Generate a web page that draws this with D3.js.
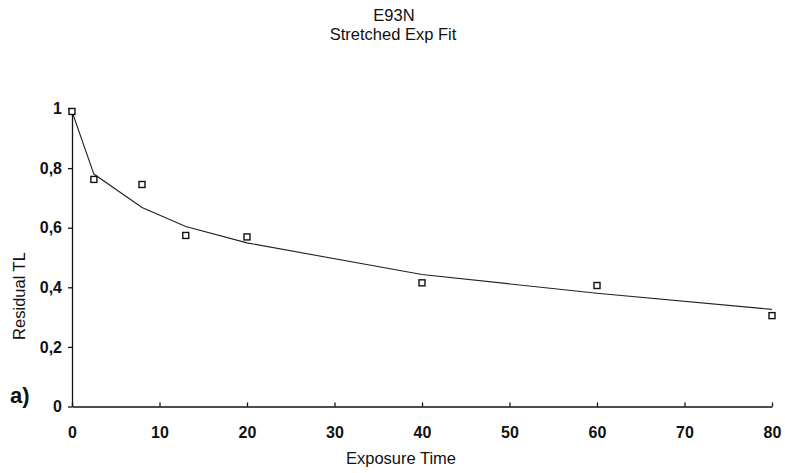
<!DOCTYPE html>
<html><head><meta charset="utf-8">
<script src="https://cdn.jsdelivr.net/npm/d3@7"></script>
<style>body{margin:0;background:#fff}svg{display:block}text{font-family:"Liberation Sans",Arial,sans-serif;fill:#111}</style>
</head><body><svg id="c" width="785" height="473"></svg>
<script>
const dataX = [0, 2.5, 8, 13, 20, 40, 60, 80];
const dataY = [0.99, 0.762, 0.745, 0.574, 0.569, 0.415, 0.406, 0.305];
const fitX = [0, 2.5, 8, 13, 20, 40, 60, 80];
const fitY = [0.99, 0.78, 0.668, 0.604, 0.549, 0.443, 0.38, 0.326];
const xTicks = [0, 10, 20, 30, 40, 50, 60, 70, 80];
const yTicks = [0, 0.2, 0.4, 0.6, 0.8, 1];

const svg = d3.select("#c");
const x = d3.scaleLinear().domain([0, 80]).range([72, 772]);
const y = d3.scaleLinear().domain([0, 1]).range([406.5, 108.5]);
const fmt = d => d === 0 ? "0" : d === 1 ? "1" : d3.format(".1f")(d).replace(".", ",");
const FF = "'Liberation Sans',Arial,sans-serif";

const xa = svg.append("g").attr("transform", "translate(0,406.5)")
  .call(d3.axisBottom(x).tickValues(xTicks).tickSizeInner(-4).tickSizeOuter(0).tickPadding(20).tickFormat(d3.format("d")));
const ya = svg.append("g").attr("transform", "translate(72,0)")
  .call(d3.axisLeft(y).tickValues(yTicks).tickSizeInner(4).tickSizeOuter(0).tickPadding(6).tickFormat(fmt));
[xa, ya].forEach(a => {
  a.selectAll("path,line").attr("stroke", "#111").attr("stroke-width", 1.3);
  a.selectAll("text").attr("font-size", 16).attr("font-weight", "bold").attr("fill", "#111").attr("font-family", FF);
});
xa.selectAll("text").attr("dy", "0.71em");

svg.append("path").datum(fitX.map((d, i) => [d, fitY[i]]))
  .attr("fill", "none").attr("stroke", "#222").attr("stroke-width", 1.1)
  .attr("d", d3.line().x(d => x(d[0])).y(d => y(d[1])));

svg.append("g").selectAll("rect").data(dataX.map((d, i) => [d, dataY[i]])).join("rect")
  .attr("x", d => x(d[0]) - 3).attr("y", d => y(d[1]) - 3).attr("width", 6).attr("height", 6)
  .attr("fill", "#fff").attr("stroke", "#111").attr("stroke-width", 1.4);

svg.append("text").attr("x", 394).attr("y", 21).attr("text-anchor", "middle").attr("font-size", 16.5).attr("fill", "#111").text("E93N");
svg.append("text").attr("x", 393).attr("y", 40).attr("text-anchor", "middle").attr("font-size", 16.5).attr("fill", "#111").text("Stretched Exp Fit");
svg.append("text").attr("x", 401).attr("y", 464).attr("text-anchor", "middle").attr("font-size", 16.5).attr("fill", "#111").text("Exposure Time");
svg.append("text").attr("transform", "translate(25,296) rotate(-90)").attr("text-anchor", "middle").attr("font-size", 16.5)
  .attr("fill", "#111").text("Residual TL");
svg.append("text").attr("x", 10).attr("y", 403).attr("font-size", 22).attr("font-weight", "bold").attr("fill", "#111").text("a)");
</script></body></html>
